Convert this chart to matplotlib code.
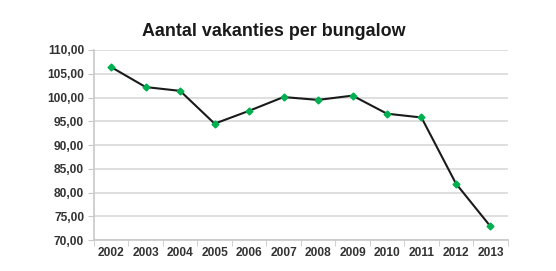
import numpy as np
import matplotlib.pyplot as plt
from matplotlib.ticker import FuncFormatter

years = ['2002', '2003', '2004', '2005', '2006', '2007', '2008', '2009', '2010', '2011', '2012', '2013']
vakanties = [106.4, 102.2, 101.4, 94.5, 97.2, 100.1, 99.5, 100.4, 96.6, 95.8, 81.9, 72.9]


def main():
    plt.rcParams['font.family'] = ['Liberation Sans', 'DejaVu Sans']
    fig = plt.figure(figsize=(5.56, 2.71), dpi=100)
    ax = fig.add_axes([0.169, 0.114, 0.744, 0.7015])

    x = np.arange(len(years))
    ax.plot(x, vakanties, color='#1a1a1a', lw=1.5, marker='D', ms=3.5,
            mfc='#00b050', mec='#00b050', zorder=3)

    ax.set_xlim(-0.5, len(years) - 0.5)
    ax.set_ylim(70, 110)
    ax.set_yticks(np.arange(70, 111, 5))
    ax.yaxis.set_major_formatter(FuncFormatter(lambda v, p: f'{v:.2f}'.replace('.', ',')))
    ax.set_xticks(x)
    ax.set_xticklabels(years)
    ax.set_xticks(np.arange(-0.5, len(years), 1), minor=True)
    ax.tick_params(axis='x', which='major', length=0, pad=5)
    ax.tick_params(axis='x', which='minor', length=4, color='#c8c8c8')
    ax.tick_params(axis='y', length=4, color='#c8c8c8', pad=3)
    for lab in ax.get_xticklabels() + ax.get_yticklabels():
        lab.set_fontsize(8.6)
        lab.set_fontweight('bold')
        lab.set_color('#333333')

    ax.grid(axis='y', color='#d9d9d9', lw=1.2)
    ax.set_axisbelow(True)
    for s in ['top', 'right']:
        ax.spines[s].set_visible(False)
    for s in ['left', 'bottom']:
        ax.spines[s].set_color('#c8c8c8')
        ax.spines[s].set_linewidth(1.2)

    fig.text(0.492, 0.885, 'Aantal vakanties per bungalow', ha='center', va='center',
             fontsize=12.9, fontweight='bold', color='#1a1a1a')

    fig.savefig('out.png', dpi=100)


if __name__ == '__main__':
    main()
